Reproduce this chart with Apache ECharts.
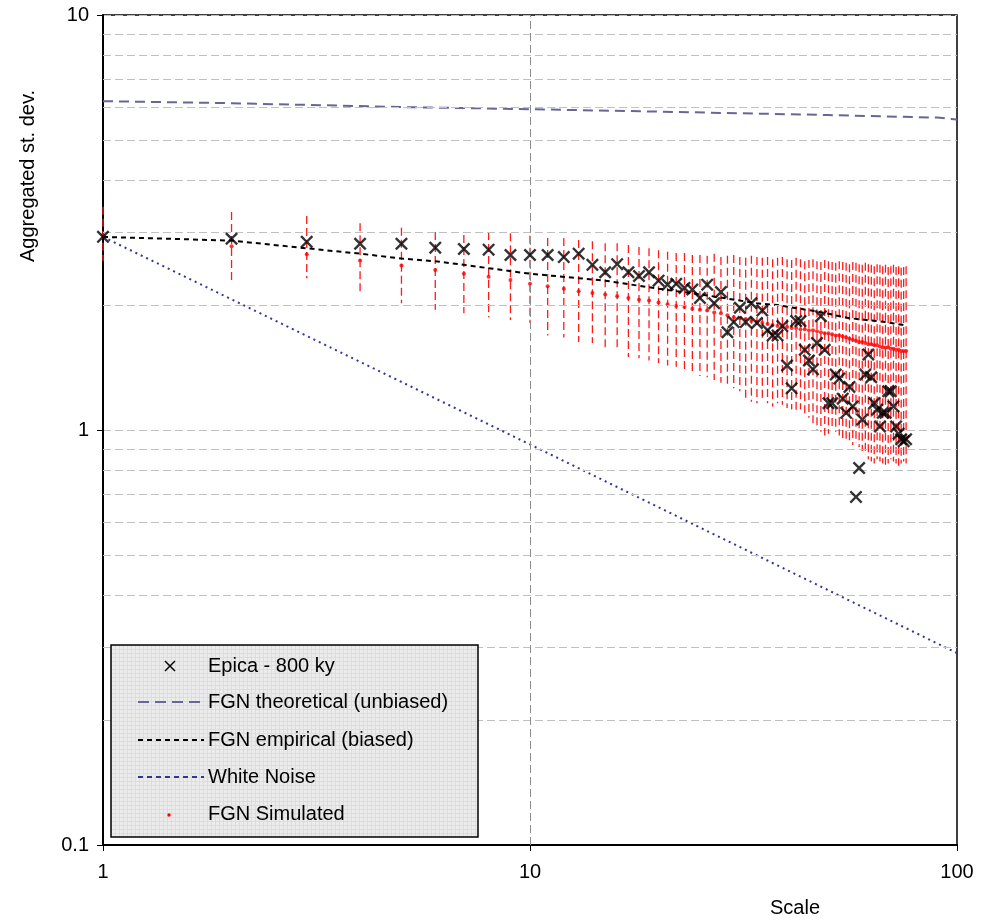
<!DOCTYPE html>
<html>
<head>
<meta charset="utf-8">
<script src="https://cdn.jsdelivr.net/npm/echarts@6/dist/echarts.min.js"></script>
<style>
  html, body { margin: 0; background: #fff; }
  #main { width: 994px; height: 920px; }
</style>
</head>
<body>
<div id="main"></div>
<script>
// aggregation scales
var scales = [1, 2, 3, 4, 5, 6, 7, 8, 9, 10, 11, 12, 13, 14, 15, 16, 17, 18, 19, 20,
  21, 22, 23, 24, 25, 26, 27, 28, 29, 30, 31, 32, 33, 34, 35, 36, 37, 38, 39, 40,
  41, 42, 43, 44, 45, 46, 47, 48, 49, 50, 51, 52, 53, 54, 55, 56, 57, 58, 59, 60,
  61, 62, 63, 64, 65, 66, 67, 68, 69, 70, 71, 72, 73, 74, 75, 76];

// Epica - 800 ky aggregated st. dev.
var epica = [2.92, 2.89, 2.84, 2.81, 2.81, 2.75, 2.73, 2.72, 2.64, 2.64,
  2.64, 2.61, 2.66, 2.50, 2.40, 2.51, 2.40, 2.35, 2.40, 2.29,
  2.24, 2.25, 2.20, 2.18, 2.08, 2.24, 2.02, 2.15, 1.72, 1.82,
  1.97, 1.82, 2.02, 1.81, 1.94, 1.74, 1.69, 1.69, 1.78, 1.43,
  1.26, 1.83, 1.83, 1.56, 1.47, 1.40, 1.62, 1.88, 1.56, 1.16,
  1.16, 1.36, 1.33, 1.19, 1.10, 1.27, 1.14, 0.69, 0.81, 1.06,
  1.36, 1.52, 1.34, 1.16, 1.12, 1.02, 1.10, 1.10, 1.24, 1.24,
  1.14, 1.02, 0.98, 0.95, 0.94, 0.95];

// FGN simulated: mean and spread
var simMean = [2.95, 2.77, 2.65, 2.56, 2.49, 2.43, 2.38, 2.34, 2.30, 2.25,
  2.22, 2.19, 2.16, 2.14, 2.12, 2.10, 2.08, 2.06, 2.05, 2.03,
  2.01, 1.99, 1.98, 1.96, 1.95, 1.94, 1.92, 1.91, 1.89, 1.87,
  1.86, 1.85, 1.83, 1.82, 1.81, 1.80, 1.79, 1.78, 1.77, 1.77,
  1.76, 1.76, 1.75, 1.75, 1.74, 1.74, 1.73, 1.72, 1.71, 1.71,
  1.70, 1.69, 1.69, 1.68, 1.67, 1.66, 1.65, 1.64, 1.63, 1.63,
  1.62, 1.61, 1.61, 1.60, 1.60, 1.59, 1.58, 1.58, 1.58, 1.57,
  1.57, 1.56, 1.56, 1.55, 1.55, 1.55];
var simLow = [2.55, 2.30, 2.32, 2.13, 2.02, 1.95, 1.91, 1.87, 1.84, 1.81,
  1.69, 1.67, 1.63, 1.62, 1.56, 1.55, 1.50, 1.49, 1.47, 1.45,
  1.43, 1.42, 1.39, 1.37, 1.35, 1.34, 1.32, 1.30, 1.28, 1.26,
  1.24, 1.19, 1.17, 1.16, 1.18, 1.16, 1.14, 1.16, 1.15, 1.13,
  1.12, 1.11, 1.12, 1.09, 1.07, 1.03, 1.00, 0.99, 0.97, 0.98,
  1.00, 0.99, 0.97, 0.95, 0.94, 0.93, 0.92, 0.93, 0.91, 0.89,
  0.87, 0.85, 0.84, 0.83, 0.85, 0.84, 0.83, 0.82, 0.83, 0.85,
  0.84, 0.83, 0.82, 0.83, 0.84, 0.83];
var simHigh = [3.45, 3.35, 3.28, 3.15, 3.07, 3.00, 2.95, 3.00, 2.98, 2.94,
  2.90, 2.90, 2.87, 2.85, 2.82, 2.82, 2.79, 2.76, 2.74, 2.71,
  2.69, 2.67, 2.67, 2.64, 2.64, 2.63, 2.66, 2.61, 2.63, 2.64,
  2.61, 2.60, 2.63, 2.61, 2.60, 2.61, 2.58, 2.60, 2.61, 2.58,
  2.57, 2.60, 2.58, 2.55, 2.57, 2.58, 2.55, 2.54, 2.57, 2.55,
  2.54, 2.53, 2.55, 2.54, 2.53, 2.51, 2.54, 2.53, 2.51, 2.50,
  2.53, 2.51, 2.50, 2.48, 2.51, 2.50, 2.48, 2.50, 2.47, 2.48,
  2.50, 2.47, 2.48, 2.46, 2.47, 2.48];

// model curves [scale, value]
var fgnTheoretical = [[1, 6.2], [2, 6.13], [5, 6.0], [10, 5.93], [20, 5.85], [50, 5.74], [90, 5.66], [100, 5.6]];
var fgnEmpirical = [[1, 2.92], [2, 2.86], [3, 2.74], [4, 2.66], [5, 2.59], [6, 2.55], [7, 2.5], [10, 2.38],
  [15, 2.29], [20, 2.19], [26, 2.11], [34, 2.02], [38, 2.0], [47, 1.93], [56, 1.86], [68, 1.82], [75, 1.79]];
var whiteNoise = [[1, 2.92], [10, 0.923], [100, 0.29]];

// horizontal minor grid values
var minorY = [0.2, 0.3, 0.4, 0.5, 0.6, 0.7, 0.8, 0.9, 2, 3, 4, 5, 6, 7, 8, 9];

var FONT = 'Liberation Sans, Arial, sans-serif';
var chart = echarts.init(document.getElementById('main'), null, { renderer: 'canvas' });

// grey hatched legend background
var pat = document.createElement('canvas');
pat.width = 4; pat.height = 4;
var pc = pat.getContext('2d');
pc.fillStyle = '#ececec'; pc.fillRect(0, 0, 4, 4);
pc.fillStyle = '#dcdcdc'; pc.fillRect(0, 0, 4, 1); pc.fillRect(0, 0, 1, 4);

function legendText(y, txt) {
  return { type: 'text', x: 97, y: y, z: 101,
    style: { text: txt, fontSize: 20, fontFamily: FONT, fill: '#000',
      align: 'left', verticalAlign: 'middle', textAlign: 'left', textVerticalAlign: 'middle' } };
}

var option = {
  animation: false,
  textStyle: { fontFamily: FONT },
  grid: { left: 103, right: 37, top: 15, bottom: 75, show: true, borderColor: '#000', borderWidth: 1.5, backgroundColor: 'transparent' },
  xAxis: {
    type: 'log', logBase: 10, min: 1, max: 100,
    axisLine: { lineStyle: { color: '#000', width: 2 } },
    axisTick: { show: true, length: 6, lineStyle: { color: '#000' } },
    axisLabel: { fontSize: 20, color: '#000', margin: 17 },
    splitLine: { show: false },
    minorTick: { show: false }
  },
  yAxis: {
    type: 'log', logBase: 10, min: 0.1, max: 10,
    axisLine: { show: true, lineStyle: { color: '#000', width: 2 } },
    axisTick: { show: true, length: 6, lineStyle: { color: '#000' } },
    axisLabel: { fontSize: 20, color: '#000', margin: 14, formatter: function (v) { return String(+v.toPrecision(3)); } },
    splitLine: { show: true, lineStyle: { color: '#c0c0c0', type: [8, 4], width: 1 } }
  },
  series: [
    {
      name: 'grid',
      type: 'line',
      data: [[1, 1]],
      symbol: 'none',
      silent: true,
      z: 1,
      lineStyle: { opacity: 0 },
      markLine: {
        silent: true,
        symbol: ['none', 'none'],
        label: { show: false },
        animation: false,
        lineStyle: { color: '#c0c0c0', type: [8, 4], width: 1 },
        data: minorY.map(function (v) { return { yAxis: v }; })
          .concat([{ xAxis: 10, lineStyle: { color: '#8c8c8c', type: [8, 4], width: 1 } }])
      }
    },
    {
      name: 'FGN Simulated range',
      type: 'custom',
      z: 2,
      silent: true,
      data: scales.map(function (s, i) { return [s, simLow[i], simHigh[i]]; }),
      encode: { x: 0, y: [1, 2] },
      renderItem: function (params, api) {
        var a = api.coord([api.value(0), api.value(1)]);
        var b = api.coord([api.value(0), api.value(2)]);
        return {
          type: 'line',
          shape: { x1: a[0], y1: b[1], x2: a[0], y2: a[1] },
          style: { stroke: '#ff1a1a', lineWidth: 1.3, lineDash: [8, 4] }
        };
      }
    },
    {
      name: 'FGN Simulated',
      type: 'scatter',
      z: 3,
      symbol: 'circle',
      symbolSize: 4,
      itemStyle: { color: '#ff0000' },
      data: scales.map(function (s, i) { return [s, simMean[i]]; })
    },
    {
      name: 'FGN theoretical (unbiased)',
      type: 'line',
      z: 4,
      symbol: 'none',
      lineStyle: { color: '#666699', width: 2, type: [10, 6] },
      data: fgnTheoretical
    },
    {
      name: 'FGN empirical (biased)',
      type: 'line',
      z: 4,
      symbol: 'none',
      lineStyle: { color: '#000', width: 2, type: [5, 4] },
      data: fgnEmpirical
    },
    {
      name: 'White Noise',
      type: 'line',
      z: 4,
      symbol: 'none',
      lineStyle: { color: '#333399', width: 2, type: [2, 4] },
      data: whiteNoise
    },
    {
      name: 'Epica - 800 ky',
      type: 'scatter',
      z: 5,
      symbol: 'path://M0,1.3L1.3,0L5,3.7L8.7,0L10,1.3L6.3,5L10,8.7L8.7,10L5,6.3L1.3,10L0,8.7L3.7,5Z',
      symbolSize: 13,
      itemStyle: { color: '#000' },
      data: scales.map(function (s, i) { return [s, epica[i]]; })
    }
  ],
  graphic: [
    { type: 'text', x: 28, y: 176, rotation: Math.PI / 2,
      style: { text: 'Aggregated st. dev.', fontSize: 20, fontFamily: FONT, fill: '#000',
        align: 'center', verticalAlign: 'middle', textAlign: 'center', textVerticalAlign: 'middle' } },
    { type: 'text', x: 795, y: 908,
      style: { text: 'Scale', fontSize: 20, fontFamily: FONT, fill: '#000',
        align: 'center', verticalAlign: 'middle', textAlign: 'center', textVerticalAlign: 'middle' } },
    {
      type: 'group', x: 111, y: 645,
      children: [
        { type: 'rect', z: 100, shape: { x: 0, y: 0, width: 367, height: 192 },
          style: { fill: { image: pat, repeat: 'repeat' }, stroke: '#000', lineWidth: 1.5 } },
        { type: 'line', z: 101, shape: { x1: 54, y1: 16, x2: 64, y2: 26 }, style: { stroke: '#000', lineWidth: 1.5 } },
        { type: 'line', z: 101, shape: { x1: 64, y1: 16, x2: 54, y2: 26 }, style: { stroke: '#000', lineWidth: 1.5 } },
        legendText(21, 'Epica - 800 ky'),
        { type: 'line', z: 101, shape: { x1: 27, y1: 57, x2: 93, y2: 57 }, style: { stroke: '#666699', lineWidth: 2, lineDash: [11, 6] } },
        legendText(57, 'FGN theoretical (unbiased)'),
        { type: 'line', z: 101, shape: { x1: 27, y1: 95, x2: 93, y2: 95 }, style: { stroke: '#000', lineWidth: 2, lineDash: [5, 4] } },
        legendText(95, 'FGN empirical (biased)'),
        { type: 'line', z: 101, shape: { x1: 27, y1: 132, x2: 93, y2: 132 }, style: { stroke: '#333399', lineWidth: 2, lineDash: [5, 4] } },
        legendText(132, 'White Noise'),
        { type: 'circle', z: 101, shape: { cx: 58, cy: 170, r: 1.7 }, style: { fill: '#ff0000' } },
        legendText(169, 'FGN Simulated')
      ]
    }
  ]
};

chart.setOption(option);
</script>
</body>
</html>
